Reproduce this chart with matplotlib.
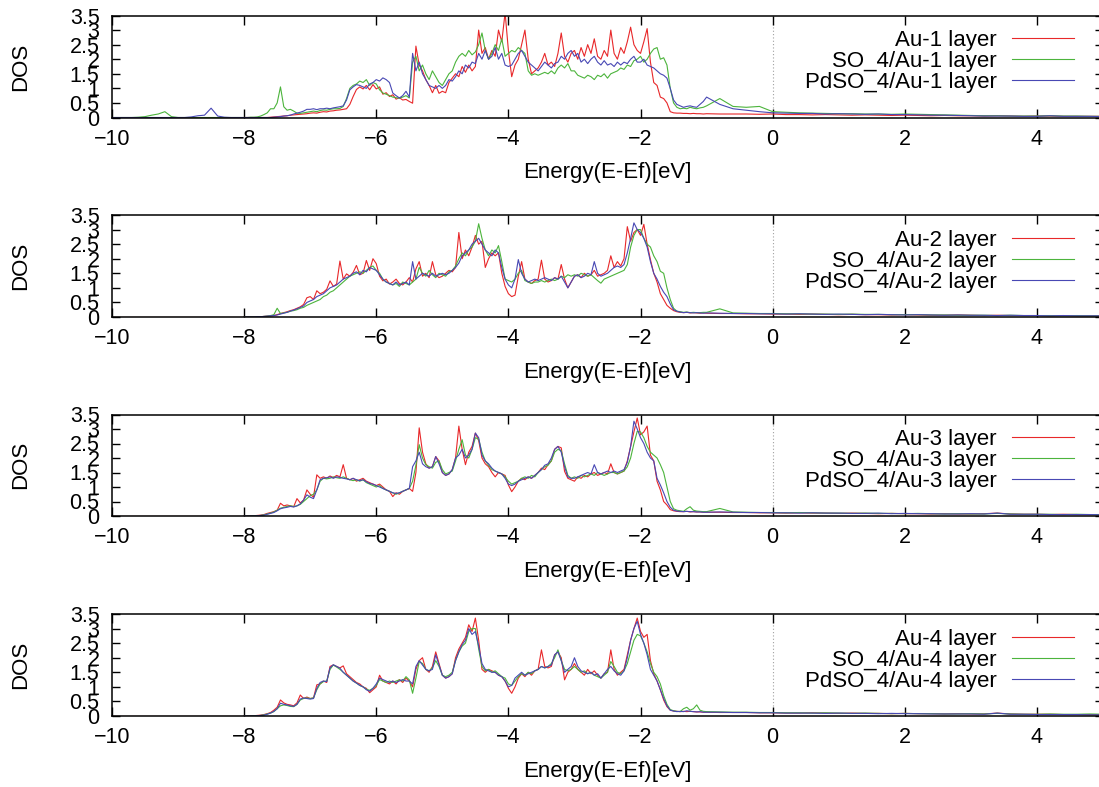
"""Projected DOS of the Au layers: clean, SO_4 and PdSO_4 covered surfaces."""
import numpy as np
import matplotlib
matplotlib.use("Agg")
import matplotlib.pyplot as plt
from matplotlib.ticker import FormatStrFormatter

plt.rcParams["font.family"] = ["Liberation Sans", "DejaVu Sans"]

# energy sampling (eV): sparse low part, dense band region, sparse tail
energy_low = np.round(np.arange(-10.0, -8.05, 0.1), 2)     # 20 points
energy_core = np.round(np.arange(-8.0, -1.0 - 1e-9, 0.05), 2)  # 140 points
energy_tail = np.round(np.arange(-1.0, 5.0 + 1e-9, 0.2), 2)    # 31 points
energy = np.concatenate([energy_core, energy_tail])

# ---- layer 1 ----
au1 = [
    0, 0, 0, 0, 0, 0, 0, 0, 0.01, 0.02, 0.03, 0.04, 0.05, 0.06, 0.08, 0.09, 0.1, 0.11, 0.12, 0.13,
    0.15, 0.16, 0.15, 0.18, 0.2, 0.19, 0.22, 0.23, 0.25, 0.26, 0.28, 0.3, 0.45, 0.72, 0.96, 1.05, 0.98, 1.1, 0.95, 1.13,
    0.98, 1.05, 0.8, 0.85, 0.72, 0.78, 0.63, 0.68, 0.6, 0.62, 0.55, 0.49, 2.45, 1.8, 1.6, 1.3, 1.1, 0.85, 1.1, 0.83,
    0.9, 0.85, 1.2, 1.35, 1.5, 1.4, 1.75, 1.55, 1.8, 1.6, 1.75, 3.0, 2.2, 2.4, 2.0, 2.3, 2.1, 3.0, 2.6, 3.6,
    2.3, 1.4, 1.8, 2.0, 2.5, 3.0, 2.0, 1.5, 1.6, 1.7, 1.9, 2.2, 1.8, 1.9, 1.75, 2.2, 2.9, 2.1, 1.9, 2.2,
    2.3, 2.0, 2.4, 2.1, 2.5, 2.2, 2.7, 2.1, 2.0, 2.3, 2.1, 3.0, 2.2, 2.0, 2.4, 2.2, 2.6, 3.1, 2.5, 2.3,
    2.2, 2.6, 3.05, 1.9, 1.2, 1.1, 0.7, 0.65, 0.5, 0.2, 0.16, 0.15, 0.15, 0.14, 0.14, 0.13, 0.14, 0.13, 0.13, 0.12,
    0.13, 0.12, 0.12, 0.12, 0.11, 0.12, 0.1, 0.1, 0.09, 0.1, 0.09, 0.08, 0.09, 0.08, 0.07, 0.08,
    0.07, 0.06, 0.07, 0.06, 0.06, 0.05, 0.06, 0.05, 0.04, 0.05, 0.05, 0.04, 0.04, 0.04, 0.04,
]
so4_au1_low = [0, 0, 0, 0, 0.01, 0.03, 0.08, 0.12, 0.2, 0.03, 0, 0, 0, 0, 0, 0, 0, 0, 0, 0]
so4_au1 = [
    0, 0, 0.01, 0.01, 0.02, 0.05, 0.1, 0.16, 0.3, 0.3, 0.5, 1.05, 0.37, 0.25, 0.28, 0.22, 0.15, 0.14, 0.16, 0.18,
    0.2, 0.22, 0.2, 0.24, 0.26, 0.25, 0.28, 0.3, 0.3, 0.31, 0.38, 0.65, 1.0, 1.1, 1.15, 1.25, 1.2, 1.3, 1.1, 1.2,
    1.15, 0.95, 0.84, 0.8, 0.75, 0.7, 0.68, 0.66, 0.7, 0.75, 0.67, 1.9, 2.1, 1.6, 1.8, 1.5, 1.3, 1.6, 1.4, 1.2,
    1.1, 1.3, 1.5, 1.6, 1.9, 2.1, 2.2, 2.1, 2.3, 2.15, 2.25, 2.5, 2.9, 2.3, 2.0, 2.2, 2.5, 2.3, 2.7, 2.1,
    2.2, 2.3, 2.25, 2.4, 2.3, 2.2, 1.6, 1.45, 1.5, 1.45, 1.5, 1.55, 1.5, 1.6, 1.5, 1.7, 1.8, 1.7, 1.85, 1.6,
    1.6, 1.45, 1.4, 1.35, 1.45, 1.4, 1.3, 1.45, 1.4, 1.5, 1.35, 1.5, 1.55, 1.6, 1.7, 1.65, 1.8, 1.75, 1.95, 2.0,
    2.1, 1.9, 2.0, 2.2, 2.35, 2.4, 2.0, 2.05, 1.8, 1.0, 0.5, 0.35, 0.3, 0.32, 0.3, 0.35, 0.32, 0.3, 0.33, 0.35,
    0.4, 0.65, 0.38, 0.35, 0.38, 0.2, 0.18, 0.16, 0.15, 0.14, 0.13, 0.13, 0.12, 0.12, 0.11, 0.12,
    0.11, 0.1, 0.09, 0.08, 0.07, 0.06, 0.06, 0.05, 0.05, 0.05, 0.06, 0.05, 0.05, 0.04, 0.04,
]
pdso4_au1_low = [0, 0, 0, 0, 0, 0, 0, 0, 0, 0, 0, 0, 0.02, 0.06, 0.08, 0.32, 0.05, 0.01, 0, 0]
pdso4_au1 = [
    0, 0, 0, 0, 0, 0, 0, 0, 0, 0.01, 0.02, 0.03, 0.05, 0.06, 0.08, 0.12, 0.15, 0.18, 0.22, 0.28,
    0.28, 0.3, 0.27, 0.3, 0.3, 0.32, 0.3, 0.33, 0.35, 0.37, 0.4, 0.6, 0.95, 1.05, 1.13, 1.1, 1.05, 1.0, 1.15, 1.2,
    1.3, 1.25, 1.36, 1.3, 1.2, 0.84, 0.75, 0.67, 0.75, 0.9, 0.7, 2.2, 1.6, 1.9, 1.5, 1.3, 1.1, 1.05, 1.0, 1.1,
    1.0, 1.1, 1.3, 1.25, 1.4, 1.6, 1.5, 1.8, 1.7, 1.9, 1.85, 2.2, 2.0, 2.3, 2.0, 2.1, 2.4, 2.0, 2.2, 1.8,
    1.75, 1.8, 2.0, 2.2, 2.3, 2.1, 1.9, 1.8, 1.7, 1.6, 1.75, 1.9, 1.8, 1.7, 1.85, 1.9, 2.1, 2.0, 2.2, 2.3,
    2.1, 2.2, 1.9, 2.0, 1.85, 2.0, 2.1, 1.9, 1.8, 1.95, 1.8, 1.85, 1.75, 1.9, 1.8, 1.9, 1.85, 2.0, 2.1, 1.9,
    1.9, 2.0, 1.8, 1.75, 1.7, 1.6, 1.5, 1.45, 1.35, 1.0, 0.6, 0.45, 0.4, 0.35, 0.38, 0.4, 0.37, 0.35, 0.45, 0.55,
    0.7, 0.45, 0.3, 0.25, 0.2, 0.16, 0.15, 0.14, 0.14, 0.12, 0.13, 0.12, 0.11, 0.12, 0.1, 0.1,
    0.09, 0.08, 0.08, 0.07, 0.06, 0.05, 0.05, 0.05, 0.04, 0.04, 0.06, 0.04, 0.04, 0.04, 0.03,
]

# ---- layer 2 ----
au2 = [
    0, 0, 0, 0, 0.01, 0.01, 0.02, 0.03, 0.04, 0.05, 0.08, 0.12, 0.15, 0.18, 0.22, 0.25, 0.3, 0.35, 0.43, 0.66,
    0.7, 0.6, 0.9, 0.8, 0.85, 0.95, 1.24, 1.05, 1.13, 1.92, 1.3, 1.48, 1.4, 1.53, 1.77, 1.45, 1.5, 1.94, 1.6, 2.0,
    1.83, 1.4, 1.24, 1.3, 1.13, 1.2, 1.3, 1.15, 1.1, 1.2, 1.35, 1.2, 1.65, 1.9, 1.4, 1.5, 1.35, 1.9, 1.45, 1.35,
    1.4, 1.5, 1.6, 1.55, 1.7, 2.9, 2.0, 2.3, 2.1, 2.4, 2.8, 2.5, 2.6, 1.7, 2.0, 2.2, 2.1, 2.2, 1.5, 1.05,
    0.8, 0.7, 0.75, 1.4, 1.9, 1.3, 1.2, 1.15, 1.25, 1.3, 1.95, 1.3, 1.2, 1.25, 1.35, 1.3, 1.8, 1.3, 1.0, 1.2,
    1.4, 1.45, 1.35, 1.5, 1.4, 1.45, 1.6, 1.4, 1.45, 1.5, 1.6, 2.1, 1.7, 1.9, 1.75, 2.0, 3.1, 2.6, 2.9, 3.0,
    2.8, 3.18, 2.5, 1.97, 1.5, 1.2, 0.8, 0.6, 0.4, 0.3, 0.22, 0.18, 0.16, 0.15, 0.16, 0.14, 0.15, 0.14, 0.13, 0.14,
    0.13, 0.12, 0.12, 0.11, 0.11, 0.1, 0.1, 0.09, 0.1, 0.09, 0.08, 0.09, 0.08, 0.08, 0.07, 0.08,
    0.07, 0.06, 0.06, 0.07, 0.06, 0.05, 0.06, 0.05, 0.05, 0.05, 0.04, 0.05, 0.04, 0.04, 0.04,
]
so4_au2 = [
    0, 0, 0, 0, 0, 0.01, 0.02, 0.03, 0.05, 0.08, 0.3, 0.12, 0.14, 0.16, 0.2, 0.22, 0.25, 0.3, 0.33, 0.4,
    0.45, 0.5, 0.55, 0.6, 0.7, 0.75, 0.85, 0.9, 1.0, 1.1, 1.2, 1.3, 1.4, 1.45, 1.5, 1.55, 1.5, 1.6, 1.7, 1.75,
    1.6, 1.5, 1.3, 1.2, 1.15, 1.1, 1.15, 1.05, 1.2, 1.15, 1.1, 1.2, 1.3, 1.7, 1.5, 1.4, 1.6, 1.45, 1.35, 1.5,
    1.45, 1.4, 1.55, 1.6, 1.75, 2.0, 2.2, 2.1, 2.3, 2.4, 2.6, 3.2, 2.7, 2.3, 2.1, 2.3, 2.2, 2.45, 1.9, 1.3,
    1.25, 1.2, 1.3, 1.5, 1.6, 1.25, 1.2, 1.15, 1.2, 1.2, 1.25, 1.2, 1.25, 1.3, 1.25, 1.3, 1.4, 1.35, 1.45, 1.4,
    1.45, 1.4, 1.5, 1.45, 1.4, 1.45, 1.35, 1.25, 1.16, 1.3, 1.35, 1.4, 1.45, 1.5, 1.55, 1.6, 1.8, 2.4, 2.8, 3.0,
    3.0, 2.7, 2.5, 2.4, 2.1, 1.9, 1.57, 1.5, 1.0, 0.6, 0.3, 0.2, 0.18, 0.16, 0.17, 0.15, 0.16, 0.15, 0.15, 0.16,
    0.16, 0.28, 0.14, 0.13, 0.12, 0.12, 0.11, 0.11, 0.1, 0.1, 0.09, 0.1, 0.09, 0.09, 0.08, 0.08,
    0.08, 0.07, 0.07, 0.06, 0.06, 0.06, 0.05, 0.06, 0.05, 0.05, 0.05, 0.04, 0.05, 0.04, 0.04,
]
pdso4_au2 = [
    0, 0, 0, 0, 0.01, 0.01, 0.02, 0.03, 0.04, 0.05, 0.07, 0.1, 0.13, 0.16, 0.2, 0.24, 0.28, 0.33, 0.38, 0.5,
    0.55, 0.6, 0.7, 0.75, 0.8, 0.9, 1.0, 1.05, 1.1, 1.2, 1.3, 1.35, 1.4, 1.5, 1.55, 1.45, 1.6, 1.55, 1.7, 1.65,
    1.6, 1.45, 1.3, 1.2, 1.15, 1.1, 1.2, 1.1, 1.15, 1.2, 1.1, 1.9, 1.3, 1.4, 1.5, 1.45, 1.4, 1.5, 1.4, 1.45,
    1.5, 1.45, 1.5, 1.6, 1.7, 1.85, 2.1, 2.2, 2.3, 2.5, 2.6, 2.7, 2.5, 2.3, 2.2, 2.1, 2.3, 2.2, 1.7, 1.3,
    1.1, 1.0, 1.3, 1.97, 1.5, 1.3, 1.2, 1.25, 1.3, 1.25, 1.3, 1.35, 1.3, 1.25, 1.35, 1.3, 1.4, 1.2, 1.0, 1.2,
    1.4, 1.45, 1.35, 1.4, 1.5, 1.45, 1.9, 1.5, 1.4, 1.45, 1.5, 1.6, 1.7, 1.75, 1.7, 1.8, 2.2, 2.7, 3.23, 3.0,
    2.9, 2.7, 2.4, 1.9, 1.5, 1.3, 1.05, 0.85, 0.7, 0.45, 0.25, 0.2, 0.17, 0.15, 0.16, 0.15, 0.14, 0.15, 0.14, 0.13,
    0.14, 0.13, 0.12, 0.12, 0.11, 0.11, 0.1, 0.11, 0.1, 0.09, 0.1, 0.09, 0.08, 0.09, 0.08, 0.07,
    0.08, 0.07, 0.06, 0.07, 0.06, 0.06, 0.05, 0.06, 0.05, 0.05, 0.04, 0.05, 0.04, 0.04, 0.04,
]

# ---- layer 3 ----
au3 = [
    0, 0, 0.01, 0.01, 0.02, 0.03, 0.05, 0.09, 0.12, 0.15, 0.2, 0.44, 0.35, 0.38, 0.35, 0.32, 0.6, 0.45, 0.55, 0.9,
    0.75, 0.65, 1.42, 1.3, 1.35, 1.3, 1.38, 1.32, 1.4, 1.35, 1.77, 1.3, 1.25, 1.3, 1.2, 1.25, 1.3, 1.2, 1.15, 1.1,
    1.05, 1.1, 1.0, 0.9, 0.85, 0.67, 0.8, 0.75, 0.85, 0.9, 0.95, 0.85, 1.5, 3.04, 2.2, 1.8, 1.65, 1.7, 2.05, 1.9,
    1.5, 1.4, 1.45, 1.6, 2.0, 3.1, 2.3, 1.77, 2.2, 2.4, 2.86, 2.6, 2.0, 1.8, 1.7, 1.5, 1.35, 1.5, 1.45, 1.4,
    1.07, 0.84, 1.0, 1.2, 1.3, 1.25, 1.35, 1.3, 1.4, 1.5, 1.65, 1.6, 1.77, 1.9, 2.3, 2.4, 2.35, 1.54, 1.3, 1.25,
    1.2, 1.35, 1.3, 1.4, 1.35, 1.45, 1.5, 1.4, 1.45, 1.5, 1.45, 1.8, 1.5, 1.45, 1.5, 1.55, 1.9, 2.4, 2.9, 3.38,
    2.8, 2.9, 3.1, 2.1, 1.9, 1.2, 0.9, 0.5, 0.38, 0.22, 0.18, 0.16, 0.15, 0.15, 0.16, 0.14, 0.15, 0.14, 0.14, 0.13,
    0.13, 0.13, 0.12, 0.12, 0.11, 0.11, 0.1, 0.11, 0.1, 0.1, 0.09, 0.1, 0.09, 0.08, 0.09, 0.08,
    0.08, 0.07, 0.08, 0.07, 0.07, 0.08, 0.1, 0.07, 0.06, 0.06, 0.05, 0.06, 0.05, 0.05, 0.05,
]
so4_au3 = [
    0, 0, 0, 0.01, 0.01, 0.02, 0.04, 0.07, 0.1, 0.14, 0.2, 0.27, 0.3, 0.33, 0.35, 0.33, 0.35, 0.4, 0.5, 0.6,
    0.7, 0.75, 0.9, 1.2, 1.3, 1.28, 1.3, 1.35, 1.32, 1.3, 1.35, 1.3, 1.25, 1.22, 1.25, 1.2, 1.25, 1.15, 1.1, 1.05,
    1.0, 1.05, 0.95, 0.9, 0.85, 0.8, 0.75, 0.8, 0.85, 0.9, 0.95, 1.2, 1.75, 2.46, 2.0, 1.77, 1.7, 1.65, 1.85, 1.9,
    1.6, 1.45, 1.5, 1.55, 1.9, 2.3, 2.63, 2.1, 2.0, 2.3, 2.7, 2.65, 2.2, 1.9, 1.75, 1.6, 1.55, 1.5, 1.45, 1.35,
    1.2, 1.1, 1.15, 1.2, 1.3, 1.35, 1.3, 1.4, 1.35, 1.5, 1.6, 1.7, 1.75, 1.9, 2.2, 2.3, 2.25, 1.8, 1.4, 1.3,
    1.35, 1.3, 1.4, 1.35, 1.4, 1.45, 1.4, 1.5, 1.45, 1.4, 1.45, 1.5, 1.5, 1.45, 1.5, 1.55, 1.7, 2.0, 2.5, 2.92,
    2.9, 2.7, 2.4, 2.2, 2.1, 2.0, 1.77, 1.5, 1.0, 0.5, 0.25, 0.2, 0.18, 0.16, 0.25, 0.32, 0.2, 0.17, 0.16, 0.15,
    0.15, 0.26, 0.14, 0.13, 0.12, 0.12, 0.11, 0.12, 0.11, 0.1, 0.1, 0.09, 0.1, 0.09, 0.09, 0.08,
    0.09, 0.08, 0.07, 0.08, 0.07, 0.07, 0.09, 0.07, 0.06, 0.06, 0.06, 0.05, 0.06, 0.05, 0.05,
]
pdso4_au3 = [
    0, 0, 0, 0, 0.01, 0.02, 0.03, 0.06, 0.09, 0.12, 0.18, 0.25, 0.28, 0.3, 0.33, 0.31, 0.35, 0.42, 0.55, 0.73,
    0.65, 0.6, 0.9, 1.25, 1.3, 1.32, 1.35, 1.3, 1.35, 1.33, 1.3, 1.28, 1.25, 1.3, 1.25, 1.22, 1.25, 1.18, 1.12, 1.1,
    1.05, 1.0, 0.95, 0.9, 0.85, 0.8, 0.78, 0.8, 0.85, 0.9, 0.95, 1.7, 1.9, 2.2, 1.8, 1.7, 1.65, 1.7, 2.05, 1.8,
    1.5, 1.4, 1.45, 1.6, 2.0, 2.1, 2.3, 2.0, 2.1, 2.3, 2.86, 2.7, 2.1, 1.9, 1.8, 1.65, 1.55, 1.5, 1.45, 1.3,
    1.1, 1.05, 1.1, 1.2, 1.25, 1.3, 1.35, 1.3, 1.4, 1.5, 1.6, 1.75, 1.8, 2.0, 2.3, 2.4, 2.2, 1.7, 1.35, 1.3,
    1.3, 1.35, 1.4, 1.45, 1.5, 1.45, 1.77, 1.5, 1.45, 1.5, 1.55, 1.5, 1.55, 1.5, 1.55, 1.6, 1.85, 2.4, 3.27, 3.0,
    2.7, 2.5, 2.2, 2.0, 1.9, 1.3, 1.07, 0.8, 0.5, 0.3, 0.2, 0.17, 0.16, 0.15, 0.16, 0.15, 0.15, 0.14, 0.14, 0.13,
    0.13, 0.14, 0.13, 0.12, 0.12, 0.11, 0.11, 0.1, 0.11, 0.1, 0.1, 0.09, 0.09, 0.1, 0.08, 0.09,
    0.08, 0.08, 0.07, 0.07, 0.08, 0.07, 0.1, 0.06, 0.06, 0.06, 0.05, 0.05, 0.05, 0.05, 0.04,
]

# ---- layer 4 ----
au4 = [
    0, 0, 0.01, 0.01, 0.02, 0.03, 0.05, 0.08, 0.12, 0.2, 0.3, 0.55, 0.45, 0.4, 0.38, 0.35, 0.45, 0.72, 0.6, 0.65,
    0.6, 0.62, 1.07, 1.1, 1.2, 1.15, 1.7, 1.75, 1.7, 1.65, 1.72, 1.45, 1.35, 1.25, 1.15, 1.1, 1.0, 0.95, 0.8, 0.9,
    1.0, 1.4, 1.2, 1.15, 1.1, 1.2, 1.1, 1.25, 1.15, 1.3, 1.2, 1.0, 1.6, 1.9, 2.0, 1.6, 1.5, 1.7, 2.2, 1.8,
    1.4, 1.3, 1.35, 1.45, 2.0, 2.3, 2.5, 2.7, 3.13, 2.9, 3.36, 2.6, 1.6, 1.5, 1.6, 1.55, 1.5, 1.4, 1.35, 1.2,
    0.95, 0.78, 1.0, 1.3, 1.45, 1.35, 1.5, 1.4, 1.55, 1.6, 2.27, 1.7, 1.65, 1.7, 2.1, 2.2, 2.0, 1.24, 1.5, 1.6,
    1.8, 1.6, 1.5, 1.4, 1.6, 1.45, 1.55, 1.4, 1.3, 1.45, 1.5, 2.27, 1.6, 1.4, 1.5, 1.6, 2.1, 2.6, 3.0, 3.36,
    2.9, 2.7, 2.8, 1.9, 1.45, 1.2, 0.9, 0.55, 0.32, 0.2, 0.17, 0.16, 0.15, 0.16, 0.15, 0.16, 0.15, 0.14, 0.14, 0.13,
    0.13, 0.12, 0.12, 0.12, 0.11, 0.11, 0.1, 0.1, 0.11, 0.1, 0.09, 0.1, 0.09, 0.09, 0.08, 0.09,
    0.08, 0.08, 0.07, 0.08, 0.07, 0.07, 0.1, 0.07, 0.06, 0.06, 0.06, 0.05, 0.05, 0.05, 0.05,
]
so4_au4 = [
    0, 0, 0, 0.01, 0.01, 0.02, 0.04, 0.07, 0.1, 0.15, 0.25, 0.35, 0.38, 0.36, 0.33, 0.32, 0.4, 0.55, 0.6, 0.62,
    0.6, 0.62, 0.9, 1.1, 1.18, 1.2, 1.6, 1.75, 1.68, 1.6, 1.5, 1.4, 1.3, 1.2, 1.13, 1.05, 1.0, 0.92, 0.88, 0.95,
    1.05, 1.25, 1.2, 1.15, 1.2, 1.15, 1.2, 1.24, 1.2, 1.35, 1.24, 0.78, 1.3, 1.87, 1.8, 1.6, 1.55, 1.65, 1.9, 1.7,
    1.4, 1.35, 1.4, 1.5, 1.9, 2.2, 2.4, 2.5, 2.9, 3.0, 3.0, 2.3, 1.7, 1.55, 1.6, 1.5, 1.55, 1.45, 1.35, 1.3,
    1.1, 1.05, 1.2, 1.35, 1.45, 1.4, 1.5, 1.45, 1.55, 1.6, 1.7, 1.65, 1.7, 1.8, 2.0, 2.27, 1.9, 1.6, 1.55, 1.6,
    1.7, 1.6, 1.5, 1.55, 1.45, 1.5, 1.4, 1.35, 1.3, 1.4, 1.5, 1.87, 1.7, 1.5, 1.45, 1.55, 1.8, 2.2, 2.6, 2.8,
    2.75, 2.5, 2.2, 1.8, 1.5, 1.35, 1.1, 0.7, 0.4, 0.22, 0.18, 0.16, 0.15, 0.25, 0.3, 0.2, 0.25, 0.38, 0.2, 0.16,
    0.15, 0.14, 0.13, 0.13, 0.12, 0.12, 0.11, 0.11, 0.1, 0.11, 0.1, 0.09, 0.1, 0.09, 0.08, 0.09,
    0.08, 0.08, 0.07, 0.07, 0.08, 0.07, 0.09, 0.07, 0.06, 0.06, 0.07, 0.06, 0.06, 0.07, 0.06,
]
pdso4_au4 = [
    0, 0, 0, 0, 0.01, 0.02, 0.03, 0.06, 0.1, 0.16, 0.25, 0.44, 0.4, 0.38, 0.35, 0.33, 0.4, 0.58, 0.62, 0.6,
    0.58, 0.6, 0.95, 1.15, 1.2, 1.18, 1.65, 1.76, 1.7, 1.64, 1.5, 1.4, 1.3, 1.2, 1.13, 1.05, 1.0, 0.9, 0.85, 0.95,
    1.1, 1.3, 1.25, 1.2, 1.15, 1.2, 1.15, 1.2, 1.25, 1.2, 1.2, 1.1, 1.7, 1.9, 1.75, 1.6, 1.55, 1.6, 2.1, 1.75,
    1.4, 1.3, 1.35, 1.45, 1.9, 2.2, 2.45, 2.6, 3.0, 2.8, 2.9, 2.4, 1.8, 1.6, 1.55, 1.5, 1.5, 1.4, 1.35, 1.2,
    1.0, 1.05, 1.3, 1.4, 1.5, 1.4, 1.45, 1.5, 1.55, 1.6, 1.7, 1.65, 1.7, 1.75, 2.1, 2.2, 1.9, 1.5, 1.6, 1.7,
    2.0, 1.7, 1.55, 1.5, 1.45, 1.5, 1.4, 1.45, 1.3, 1.45, 1.6, 1.7, 1.55, 1.45, 1.4, 1.55, 2.0, 2.6, 3.0, 3.25,
    2.8, 2.5, 2.1, 1.6, 1.4, 1.2, 0.9, 0.6, 0.35, 0.2, 0.17, 0.15, 0.16, 0.15, 0.18, 0.16, 0.15, 0.14, 0.15, 0.13,
    0.13, 0.13, 0.12, 0.12, 0.11, 0.11, 0.1, 0.1, 0.1, 0.09, 0.1, 0.09, 0.09, 0.08, 0.09, 0.08,
    0.08, 0.07, 0.07, 0.07, 0.07, 0.06, 0.1, 0.06, 0.06, 0.05, 0.05, 0.05, 0.05, 0.04, 0.04,
]

layers = ["1", "2", "3", "4"]
clean = [au1, au2, au3, au4]
so4 = [so4_au1, so4_au2, so4_au3, so4_au4]
pdso4 = [pdso4_au1, pdso4_au2, pdso4_au3, pdso4_au4]

RED, GREEN, BLUE = "#e8282a", "#4cb43c", "#4848b4"
LW = 0.8

W, H = 1099, 787
fig = plt.figure(figsize=(W / 100, H / 100), dpi=100)

# panel top/bottom in pixels
panel_px = [(15.5, 117.5), (215, 317), (414.5, 516), (614, 716)]
left_px, right_px = 112, 1103

for i, (top, bot) in enumerate(panel_px):
    ax = fig.add_axes([left_px / W, 1 - bot / H, (right_px - left_px) / W, (bot - top) / H])

    ax.plot(energy, clean[i], color=RED, lw=LW)
    if i == 0:
        ax.plot(np.concatenate([energy_low, energy]), so4_au1_low + so4[i], color=GREEN, lw=LW)
        ax.plot(np.concatenate([energy_low, energy]), pdso4_au1_low + pdso4[i], color=BLUE, lw=LW)
    else:
        ax.plot(energy, so4[i], color=GREEN, lw=LW)
        ax.plot(energy, pdso4[i], color=BLUE, lw=LW)
    # red line to the left edge (zero DOS)
    ax.plot([-10, -8], [0, 0], color=RED, lw=LW)

    ax.axvline(0, color="#a0a0a0", lw=0.8, ls=(0, (1, 2)), zorder=0)

    ax.set_xlim(-10, 5)
    ax.set_ylim(0, 3.5)
    ax.set_xticks(np.arange(-10, 5, 2))
    ax.set_yticks(np.arange(0, 3.51, 0.5))
    ax.yaxis.set_major_formatter(FormatStrFormatter("%g"))
    ax.tick_params(axis="both", direction="in", top=True, right=True,
                   labelsize=15.5, width=1.0, colors="black")
    ax.tick_params(axis="x", length=6.5, pad=8)
    ax.tick_params(axis="y", length=5.5, pad=9)
    for sp in ax.spines.values():
        sp.set_linewidth(1.1)

    ax.set_xlabel("Energy(E-Ef)[eV]", fontsize=16, labelpad=9)
    ax.set_ylabel("DOS", fontsize=16)
    ax.yaxis.set_label_coords(-0.082, 0.5)

    n = layers[i]
    handles = [plt.Line2D([], [], color=c, lw=LW) for c in (RED, GREEN, BLUE)]
    labels = [f"Au-{n} layer", f"SO_4/Au-{n} layer", f"PdSO_4/Au-{n} layer"]
    ax.legend(handles, labels, loc="upper right",
              bbox_to_anchor=(1085 / W, 1 - (top + 3.5) / H), bbox_transform=fig.transFigure,
              frameon=False, markerfirst=False, fontsize=16, borderpad=0,
              handlelength=2.8, handletextpad=0.68, labelspacing=0.0)

fig.savefig("out.png", dpi=100)
